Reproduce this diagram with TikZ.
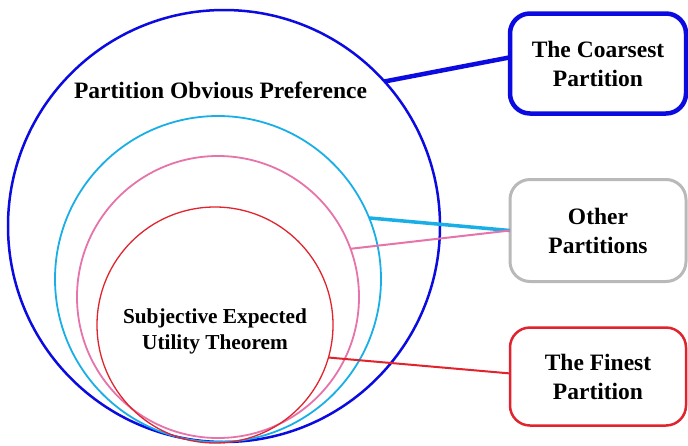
\documentclass[tikz,border=0pt]{standalone}
\usepackage{fontspec}
\setmainfont{Liberation Serif}
\definecolor{cblue}{RGB}{10,10,225}
\definecolor{ccyan}{RGB}{25,175,230}
\definecolor{cpink}{RGB}{230,115,170}
\definecolor{cred}{RGB}{225,35,45}
\definecolor{cgray}{RGB}{185,185,185}
\tikzset{
  ring/.style={circle, draw, inner sep=0pt, outer sep=0pt},
  partbox/.style={rectangle, rounded corners=20pt, draw, fill=white, inner sep=0pt, outer sep=0pt,
    minimum width=176pt, align=center, font=\fontsize{23.5}{29}\selectfont\bfseries},
  lbl/.style={align=center, inner sep=0pt, font=\bfseries}
}
\begin{document}
\begin{tikzpicture}[x=1pt,y=-1pt]
\useasboundingbox (0,0) rectangle (688,445);
% circles
\node[ring, draw=cblue, line width=2.5pt, minimum size=432pt] (bluec) at (224,226) {};
\node[ring, draw=ccyan, line width=1.8pt, minimum size=326pt] (cyanc) at (218,279) {};
\node[ring, draw=cpink, line width=1.8pt, minimum size=282pt] (pinkc) at (218,297) {};
\node[ring, draw=cred, line width=1.3pt, minimum size=236pt] (redc) at (215,325) {};
% labels
\node[lbl, font=\fontsize{23.5}{28}\selectfont\bfseries, anchor=base] (pop) at (220.5,98) {Partition Obvious Preference};
\node[lbl, font=\fontsize{21.3}{26}\selectfont\bfseries] (seu) at (215,331) {Subjective Expected\\Utility Theorem};
% boxes
\node[partbox, draw=cblue, line width=4.5pt, minimum height=100pt] (coarse) at (598,63.5) {The Coarsest\\Partition};
\node[partbox, draw=cgray, line width=3pt, minimum height=102pt] (other) at (598,230.5) {Other\\Partitions};
\node[partbox, draw=cred, line width=2.5pt, minimum height=98pt] (finest) at (598,376.5) {The Finest\\Partition};
% connectors
\draw[cblue, line width=4.5pt] (bluec.42) -- (coarse.176);
\draw[ccyan, line width=3.5pt] (cyanc.22) -- (other.west);
\draw[cpink, line width=2pt] (pinkc.20) -- (other.west);
\draw[cred, line width=2pt] (redc.-16) -- (finest.178);
\end{tikzpicture}
\end{document}
